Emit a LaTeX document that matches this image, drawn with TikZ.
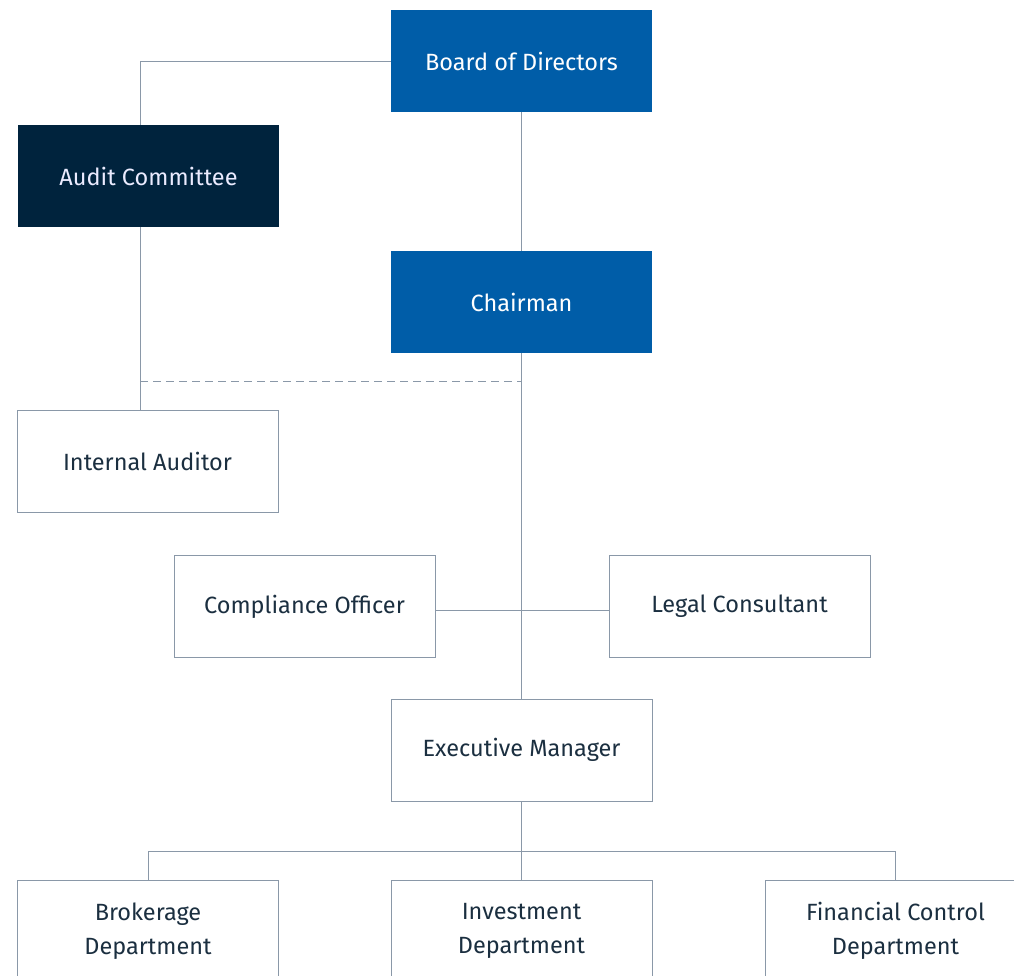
\documentclass[tikz,border=0pt]{standalone}
\usepackage{fontspec}
\setmainfont{Fira Sans}
\definecolor{boardblue}{HTML}{005DA8}
\definecolor{auditnavy}{HTML}{00233D}
\definecolor{edgegray}{HTML}{8A98A8}
\definecolor{textdark}{HTML}{1B2F40}
\tikzset{every node/.style={font=\fontsize{23.5}{34}\selectfont},
 unit/.style={draw=edgegray,line width=0.9pt,minimum width=261pt,minimum height=102pt,
   inner sep=0pt,text=textdark,align=center,fill=white},
 topunit/.style={unit,draw=none,fill=boardblue,text=white},
 auditunit/.style={unit,draw=none,fill=auditnavy,text=white!92!blue},
 link/.style={draw=edgegray,line width=0.9pt},
 }

\begin{document}
\begin{tikzpicture}[x=1pt,y=-1pt]
        \useasboundingbox (0,0) rectangle (1014,976);
        \clip (0,0) rectangle (1014,976);
        % upper part
        \node[topunit] (board) at (521.5,61) {Board of Directors};
        \node[auditunit] (audit) at (148.5,176) {Audit Committee};
        \node[topunit] (chair) at (521.5,302) {Chairman};
        \node[unit] (intaud) at (147.5,461.5) {Internal Auditor};
        \coordinate (bend) at (140,61);
        \coordinate (dashend) at (521.5,381);
        \coordinate (dashstart) at (140,381);
        \draw[link] (board.west) -- (bend) -- (bend |- audit.north);
        \draw[link] (bend |- audit.south) -- (bend |- intaud.north);
        \draw[link,dash pattern=on 8pt off 5pt] (dashstart) -- (dashend);
        \draw[link] (board) -- (chair);
        % middle part
        \node[unit] (compl) at (304.5,606.5) {Compliance Officer};
        \node[unit] (legal) at (739.5,606.5) {Legal Consultant};
        \node[unit] (exec) at (521.5,750) {Executive Manager};
        \coordinate (cross) at (521.5,610);
        \draw[link] (chair) -- (exec);
        \draw[link] (compl.east |- cross) -- (legal.west |- cross);
        % departments
        \node[unit] (broker) at (148,931) {Brokerage\\Department};
        \node[unit] (invest) at (521.5,931) {Investment\\Department};
        \node[unit] (fincon) at (895.5,931) {Financial Control\\Department};
        \coordinate (split) at (521.5,851);
        \draw[link] (exec) -- (invest);
        \draw[link] (broker.north) -- (broker.north |- split) -- (fincon.north |- split) -- (fincon.north);
    \end{tikzpicture}
\end{document}
